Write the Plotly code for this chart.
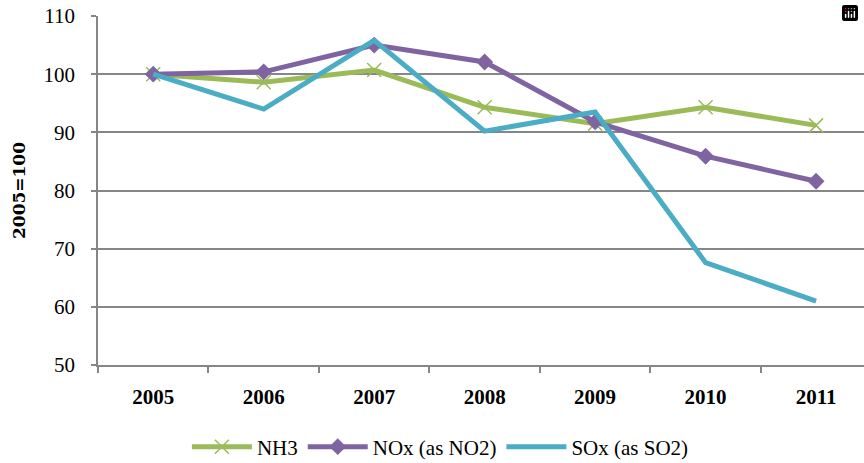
import plotly.graph_objects as go

years = ["2005", "2006", "2007", "2008", "2009", "2010", "2011"]
nh3 = [100.0, 98.6, 100.7, 94.3, 91.5, 94.3, 91.2]
nox = [100.0, 100.4, 105.0, 102.1, 91.8, 85.9, 81.6]
sox = [100.0, 94.0, 105.8, 90.2, 93.5, 67.6, 61.0]

FONT = "Times New Roman"
fig = go.Figure()
fig.add_trace(go.Scatter(x=years, y=nh3, name="NH3", mode="lines+markers",
                         line=dict(color="#9BBB59", width=5),
                         marker=dict(symbol="x-thin", size=14, line=dict(color="#9BBB59", width=1.5))))
fig.add_trace(go.Scatter(x=years, y=nox, name="NOx (as NO2)", mode="lines+markers",
                         line=dict(color="#8064A2", width=5),
                         marker=dict(symbol="diamond", size=13, color="#8064A2")))
fig.add_trace(go.Scatter(x=years, y=sox, name="SOx (as SO2)", mode="lines",
                         line=dict(color="#4BACC6", width=5)))

fig.update_layout(
    width=864, height=463,
    margin=dict(l=98, r=0, t=16, b=98, autoexpand=False),
    paper_bgcolor="white", plot_bgcolor="white",
    font=dict(family=FONT, size=17, color="black"),
    showlegend=True,
    legend=dict(orientation="h", x=0.447, xanchor="center", y=-0.235, yanchor="middle",
                font=dict(family="serif", size=21), itemwidth=60, tracegroupgap=0),
    modebar=dict(bgcolor="rgba(0,0,0,0)", color="rgba(0,0,0,0)", activecolor="rgba(0,0,0,0)"),
)
fig.update_xaxes(type="category", range=[-0.5, 6.434], tickson="boundaries",
                 ticks="outside", ticklen=6, tickcolor="#868686", tickwidth=1.5,
                 showline=True, linecolor="#868686", linewidth=1.5,
                 showgrid=False, automargin=False, ticklabelstandoff=12,
                 tickfont=dict(family=FONT, size=21, color="black", weight="bold"))
fig.update_yaxes(range=[50, 110], dtick=10, ticks="outside", ticklen=5,
                 tickcolor="#868686", tickwidth=1.5,
                 showline=True, linecolor="#868686", linewidth=1.5,
                 showgrid=True, gridcolor="#868686", gridwidth=1.5,
                 zeroline=False, automargin=False, ticklabelstandoff=12,
                 tickfont=dict(family=FONT, size=21, color="black"),
                 title=dict(text="<b>2005=100</b>", font=dict(family="DejaVu Serif", size=17), standoff=14))
fig.write_html("out.html", post_script="document.body.style.margin='0';")
